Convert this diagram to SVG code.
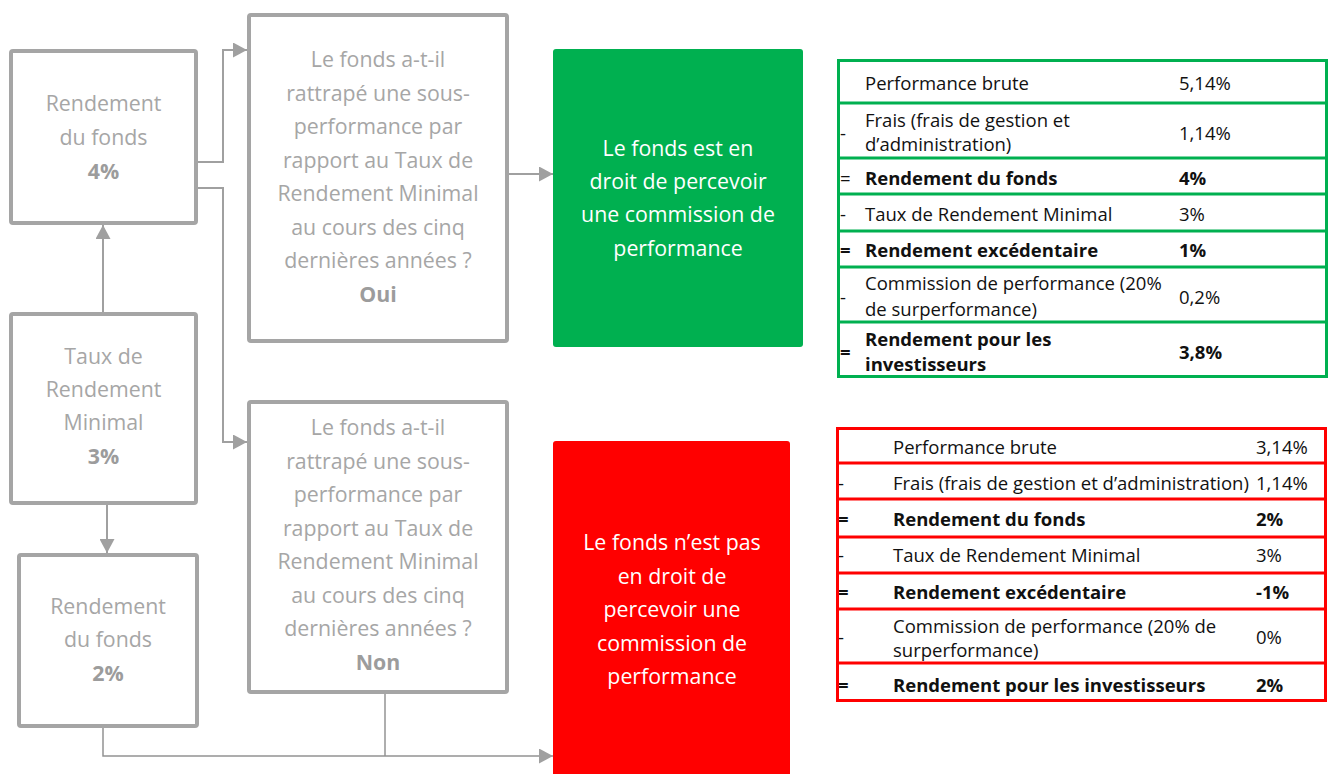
<svg xmlns="http://www.w3.org/2000/svg" width="1332" height="774" viewBox="0 0 1332 774">
<style>
.box{fill:#fff;stroke:#a5a5a5;stroke-width:4}
.bt{font-family:"Open Sans","Liberation Sans",sans-serif;font-size:21.33px;fill:#a6a6a6;text-anchor:middle}
.bb{font-weight:bold;fill:#9c9c9c}
.wt{font-family:"Open Sans","Liberation Sans",sans-serif;font-size:21.33px;fill:#fff;text-anchor:middle}
.conn{fill:none;stroke:#a0a0a0;stroke-width:2}
.thin{fill:none;stroke:#939393;stroke-width:1.5}
.tt{font-family:"Open Sans","Liberation Sans",sans-serif;font-size:18.5px;fill:#111}
.tb{font-weight:bold}
.gl{stroke:#00b050;stroke-width:3;fill:none}
.rl{stroke:#ff0000;stroke-width:3;fill:none}
</style>
<defs>
<marker id="ah" markerUnits="userSpaceOnUse" markerWidth="14" markerHeight="15" refX="14" refY="7.5" orient="auto">
<path d="M0,0 L14,7.5 L0,15 Z" fill="#a0a0a0"/>
</marker>
</defs>
<rect width="1332" height="774" fill="#fff"/>
<g id="connectors">
<path class="conn" d="M198,162 H223 V50 H247" marker-end="url(#ah)"/>
<path class="conn" d="M198,188 H223 V442 H247" marker-end="url(#ah)"/>
<path class="conn" d="M103,312 V225" marker-end="url(#ah)"/>
<path class="conn" d="M107,505 V553" marker-end="url(#ah)"/>
<path class="conn" d="M509,174 H553" marker-end="url(#ah)"/>
<path class="thin" d="M103,728 V756 H553" marker-end="url(#ah)"/>
<path class="thin" d="M385,694 V756"/>
</g>
<g id="rendement4">
<rect class="box" x="11" y="51" width="185" height="172" rx="2"/>
<text class="bt" x="103.5" y="110.5">Rendement</text>
<text class="bt" x="103.5" y="144.5">du fonds</text>
<text class="bt bb" x="103.5" y="178.5">4%</text>
</g>
<g id="taux3">
<rect class="box" x="11" y="314" width="185" height="189" rx="2"/>
<text class="bt" x="103.5" y="364">Taux de</text>
<text class="bt" x="103.5" y="397">Rendement</text>
<text class="bt" x="103.5" y="430">Minimal</text>
<text class="bt bb" x="103.5" y="464">3%</text>
</g>
<g id="rendement2">
<rect class="box" x="19" y="555" width="178" height="171" rx="2"/>
<text class="bt" x="108" y="614">Rendement</text>
<text class="bt" x="108" y="647">du fonds</text>
<text class="bt bb" x="108" y="681">2%</text>
</g>
<g id="question-oui">
<rect class="box" x="249" y="15" width="258" height="326" rx="2"/>
<text class="bt" x="378" y="67">Le fonds a-t-il</text>
<text class="bt" x="378" y="100.5">rattrapé une sous-</text>
<text class="bt" x="378" y="134">performance par</text>
<text class="bt" x="378" y="167.5">rapport au Taux de</text>
<text class="bt" x="378" y="201">Rendement Minimal</text>
<text class="bt" x="378" y="234.5">au cours des cinq</text>
<text class="bt" x="378" y="268">dernières années ?</text>
<text class="bt bb" x="378" y="301.5">Oui</text>
</g>
<g id="question-non">
<rect class="box" x="249" y="402" width="258" height="290" rx="2"/>
<text class="bt" x="378" y="435">Le fonds a-t-il</text>
<text class="bt" x="378" y="468.5">rattrapé une sous-</text>
<text class="bt" x="378" y="502">performance par</text>
<text class="bt" x="378" y="535.5">rapport au Taux de</text>
<text class="bt" x="378" y="569">Rendement Minimal</text>
<text class="bt" x="378" y="602.5">au cours des cinq</text>
<text class="bt" x="378" y="636">dernières années ?</text>
<text class="bt bb" x="378" y="669.5">Non</text>
</g>
<g id="resultat-oui">
<rect x="553" y="49" width="250" height="298" rx="3" fill="#00b050"/>
<text class="wt" x="678" y="156">Le fonds est en</text>
<text class="wt" x="678" y="189">droit de percevoir</text>
<text class="wt" x="678" y="222">une commission de</text>
<text class="wt" x="678" y="256">performance</text>
</g>
<g id="resultat-non">
<rect x="553" y="441" width="237" height="340" rx="3" fill="#ff0000"/>
<text class="wt" x="672" y="550">Le fonds n’est pas</text>
<text class="wt" x="672" y="583.5">en droit de</text>
<text class="wt" x="672" y="617">percevoir une</text>
<text class="wt" x="672" y="650.5">commission de</text>
<text class="wt" x="672" y="684">performance</text>
</g>
<g id="tableau-vert">
<rect class="gl" x="838.5" y="60.5" width="488" height="316"/>
<path class="gl" d="M838.5,103 H1326.5 M838.5,158 H1326.5 M838.5,194 H1326.5 M838.5,231 H1326.5 M838.5,267 H1326.5 M838.5,322 H1326.5"/>
<g class="tt">
<text x="865" y="89.5">Performance brute</text>
<text x="1179" y="89.5">5,14%</text>
<text x="840" y="139.5">-</text>
<text x="865" y="126.5">Frais (frais de gestion et</text>
<text x="865" y="150.5">d’administration)</text>
<text x="1179" y="139.5">1,14%</text>
<text x="840" y="184.5">=</text>
<text class="tb" x="865" y="184.5">Rendement du fonds</text>
<text class="tb" x="1179" y="184.5">4%</text>
<text x="840" y="220.5">-</text>
<text x="865" y="220.5">Taux de Rendement Minimal</text>
<text x="1179" y="220.5">3%</text>
<text class="tb" x="840" y="256.5">=</text>
<text class="tb" x="865" y="256.5">Rendement excédentaire</text>
<text class="tb" x="1179" y="256.5">1%</text>
<text x="840" y="303.5">-</text>
<text x="865" y="289.5">Commission de performance (20%</text>
<text x="865" y="315.5">de surperformance)</text>
<text x="1179" y="303.5">0,2%</text>
<text class="tb" x="840" y="358.5">=</text>
<text class="tb" x="865" y="345.5">Rendement pour les</text>
<text class="tb" x="865" y="370.5">investisseurs</text>
<text class="tb" x="1179" y="358.5">3,8%</text>
</g>
</g>
<g id="tableau-rouge">
<rect class="rl" x="837.5" y="428.5" width="488" height="272"/>
<path class="rl" d="M837.5,463 H1325.5 M837.5,499 H1325.5 M837.5,537 H1325.5 M837.5,573 H1325.5 M837.5,609 H1325.5 M837.5,663 H1325.5"/>
<g class="tt">
<text x="893" y="453.5">Performance brute</text>
<text x="1256" y="453.5">3,14%</text>
<text x="838" y="489.5">-</text>
<text x="893" y="489.5">Frais (frais de gestion et d’administration)</text>
<text x="1256" y="489.5">1,14%</text>
<text class="tb" x="838" y="525.5">=</text>
<text class="tb" x="893" y="525.5">Rendement du fonds</text>
<text class="tb" x="1256" y="525.5">2%</text>
<text x="838" y="561.5">-</text>
<text x="893" y="561.5">Taux de Rendement Minimal</text>
<text x="1256" y="561.5">3%</text>
<text class="tb" x="838" y="598.5">=</text>
<text class="tb" x="893" y="598.5">Rendement excédentaire</text>
<text class="tb" x="1256" y="598.5">-1%</text>
<text x="838" y="643.5">-</text>
<text x="893" y="632.5">Commission de performance (20% de</text>
<text x="893" y="656.5">surperformance)</text>
<text x="1256" y="643.5">0%</text>
<text class="tb" x="838" y="691.5">=</text>
<text class="tb" x="893" y="691.5">Rendement pour les investisseurs</text>
<text class="tb" x="1256" y="691.5">2%</text>
</g>
</g>
</svg>
